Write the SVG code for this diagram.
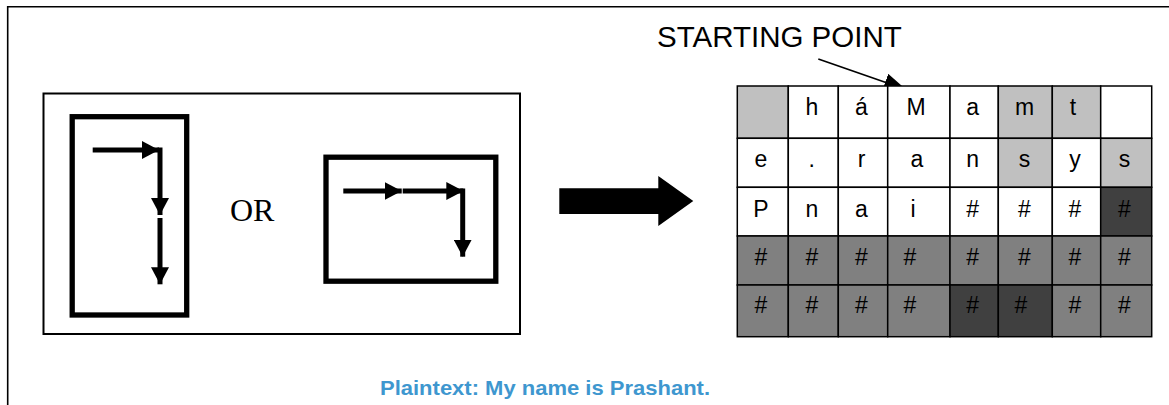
<svg xmlns="http://www.w3.org/2000/svg" width="1169" height="405" viewBox="0 0 1169 405">
<defs>
<style>
.frame{fill:none;stroke:#000;stroke-width:1.6}
.panel{fill:#fff;stroke:#000;stroke-width:2}
.box{fill:#fff;stroke:#000;stroke-width:5.3}
.flow{fill:none;stroke:#000;stroke-width:5;marker-end:url(#ah)}
.cell{stroke:#000;stroke-width:1.5}
.w{fill:#fff}.l{fill:#c0c0c0}.m{fill:#808080}.d{fill:#404040}
.ct{font-family:"Liberation Sans",Arial,sans-serif;font-size:23px;fill:#000;text-anchor:middle}
.or{font-family:"Liberation Serif","Times New Roman",serif;font-size:32px;fill:#000}
.lbl{font-family:"Liberation Sans",Arial,sans-serif;font-size:29.5px;fill:#000}
.pt{font-family:"Liberation Sans",Arial,sans-serif;font-size:21px;font-weight:bold;fill:#3e97cf}
</style>
<marker id="ah" markerUnits="userSpaceOnUse" markerWidth="17" markerHeight="18" refX="17" refY="9" orient="auto">
<path d="M0,0 L17,9 L0,18 z" fill="#000"/>
</marker>
<marker id="sp" markerUnits="userSpaceOnUse" markerWidth="22" markerHeight="18" refX="22" refY="9" orient="auto">
<path d="M0,0 L22,9 L0,18 z" fill="#000"/>
</marker>
</defs>
<rect width="1169" height="405" fill="#fff"/>
<path class="frame" d="M7.7,405 V6.7 H1169"/>

<g id="left-panel">
<rect class="panel" x="43.5" y="93.5" width="476.5" height="240.5"/>
</g>
<g id="vertical-box">
<rect class="box" x="72.2" y="116.7" width="114.5" height="198.3"/>
</g>
<g id="or-label">
<text class="or" x="230" y="221">OR</text>
</g>
<g id="horizontal-box">
<rect class="box" x="326" y="157.2" width="169.8" height="124"/>
</g>

<g id="connectors">
<line class="flow" x1="92.7" y1="150" x2="159" y2="150"/>
<line class="flow" x1="160" y1="147.5" x2="160" y2="215"/>
<line class="flow" x1="160" y1="218" x2="160" y2="284.3"/>
<line class="flow" x1="343.3" y1="191" x2="401.7" y2="191"/>
<line class="flow" x1="402.7" y1="191" x2="463.3" y2="191"/>
<line class="flow" x1="462.7" y1="188.5" x2="462.7" y2="256.7"/>
<polygon points="559.3,188.3 658.3,188.3 658.3,176 693.3,201 658.3,226 658.3,214 559.3,214" fill="#000"/>
<line x1="818.3" y1="59" x2="906" y2="89.5" stroke="#000" stroke-width="1.6" marker-end="url(#sp)"/>
</g>

<g id="starting-point-label">
<text class="lbl" x="657" y="46.5">STARTING POINT</text>
</g>

<g id="grid">
<!-- row 1 -->
<rect class="cell l" x="737.3" y="86" width="51" height="52.3"/>
<rect class="cell w" x="788.3" y="86" width="50" height="52.3"/>
<rect class="cell w" x="838.3" y="86" width="49.4" height="52.3"/>
<rect class="cell w" x="887.7" y="86" width="62.3" height="52.3"/>
<rect class="cell w" x="950" y="86" width="48.3" height="52.3"/>
<rect class="cell l" x="998.3" y="86" width="54" height="52.3"/>
<rect class="cell l" x="1052.3" y="86" width="48.4" height="52.3"/>
<rect class="cell w" x="1100.7" y="86" width="51" height="52.3"/>
<!-- row 2 -->
<rect class="cell w" x="737.3" y="138.3" width="51" height="49"/>
<rect class="cell w" x="788.3" y="138.3" width="50" height="49"/>
<rect class="cell w" x="838.3" y="138.3" width="49.4" height="49"/>
<rect class="cell w" x="887.7" y="138.3" width="62.3" height="49"/>
<rect class="cell w" x="950" y="138.3" width="48.3" height="49"/>
<rect class="cell l" x="998.3" y="138.3" width="54" height="49"/>
<rect class="cell w" x="1052.3" y="138.3" width="48.4" height="49"/>
<rect class="cell l" x="1100.7" y="138.3" width="51" height="49"/>
<!-- row 3 -->
<rect class="cell w" x="737.3" y="187.3" width="51" height="48.7"/>
<rect class="cell w" x="788.3" y="187.3" width="50" height="48.7"/>
<rect class="cell w" x="838.3" y="187.3" width="49.4" height="48.7"/>
<rect class="cell w" x="887.7" y="187.3" width="62.3" height="48.7"/>
<rect class="cell w" x="950" y="187.3" width="48.3" height="48.7"/>
<rect class="cell w" x="998.3" y="187.3" width="54" height="48.7"/>
<rect class="cell w" x="1052.3" y="187.3" width="48.4" height="48.7"/>
<rect class="cell d" x="1100.7" y="187.3" width="51" height="48.7"/>
<!-- row 4 -->
<rect class="cell m" x="737.3" y="236" width="51" height="49"/>
<rect class="cell m" x="788.3" y="236" width="50" height="49"/>
<rect class="cell m" x="838.3" y="236" width="49.4" height="49"/>
<rect class="cell m" x="887.7" y="236" width="62.3" height="49"/>
<rect class="cell m" x="950" y="236" width="48.3" height="49"/>
<rect class="cell m" x="998.3" y="236" width="54" height="49"/>
<rect class="cell m" x="1052.3" y="236" width="48.4" height="49"/>
<rect class="cell m" x="1100.7" y="236" width="51" height="49"/>
<!-- row 5 -->
<rect class="cell m" x="737.3" y="285" width="51" height="51.7"/>
<rect class="cell m" x="788.3" y="285" width="50" height="51.7"/>
<rect class="cell m" x="838.3" y="285" width="49.4" height="51.7"/>
<rect class="cell m" x="887.7" y="285" width="62.3" height="51.7"/>
<rect class="cell d" x="950" y="285" width="48.3" height="51.7"/>
<rect class="cell d" x="998.3" y="285" width="54" height="51.7"/>
<rect class="cell m" x="1052.3" y="285" width="48.4" height="51.7"/>
<rect class="cell m" x="1100.7" y="285" width="51" height="51.7"/>

<text class="ct" x="811.8" y="115">h</text>
<text class="ct" x="861.5" y="115">á</text>
<text class="ct" x="916" y="115">M</text>
<text class="ct" x="972.7" y="115">a</text>
<text class="ct" x="1024.5" y="115">m</text>
<text class="ct" x="1073" y="115">t</text>

<text class="ct" x="761" y="167.3">e</text>
<text class="ct" x="811.8" y="167.3">.</text>
<text class="ct" x="861.5" y="167.3">r</text>
<text class="ct" x="917" y="167.3">a</text>
<text class="ct" x="972.7" y="167.3">n</text>
<text class="ct" x="1024.5" y="167.3">s</text>
<text class="ct" x="1075" y="167.3">y</text>
<text class="ct" x="1124.5" y="167.3">s</text>

<text class="ct" x="761" y="216.5">P</text>
<text class="ct" x="811.8" y="216.5">n</text>
<text class="ct" x="861.5" y="216.5">a</text>
<text class="ct" x="913" y="216.5">i</text>
<text class="ct" x="972.7" y="216.5">#</text>
<text class="ct" x="1024.5" y="216.5">#</text>
<text class="ct" x="1075" y="216.5">#</text>
<text class="ct" x="1124.5" y="216.5">#</text>

<text class="ct" x="761" y="265">#</text>
<text class="ct" x="811.8" y="265">#</text>
<text class="ct" x="861.5" y="265">#</text>
<text class="ct" x="910" y="265">#</text>
<text class="ct" x="972.7" y="265">#</text>
<text class="ct" x="1024.5" y="265">#</text>
<text class="ct" x="1075" y="265">#</text>
<text class="ct" x="1124.5" y="265">#</text>

<text class="ct" x="761" y="313.3">#</text>
<text class="ct" x="811.8" y="313.3">#</text>
<text class="ct" x="861.5" y="313.3">#</text>
<text class="ct" x="910" y="313.3">#</text>
<text class="ct" x="972.7" y="313.3">#</text>
<text class="ct" x="1021" y="313.3">#</text>
<text class="ct" x="1075" y="313.3">#</text>
<text class="ct" x="1124.5" y="313.3">#</text>
</g>

<g id="plaintext">
<text class="pt" x="380" y="395" textLength="330" lengthAdjust="spacingAndGlyphs">Plaintext: My name is Prashant.</text>
</g>
</svg>
